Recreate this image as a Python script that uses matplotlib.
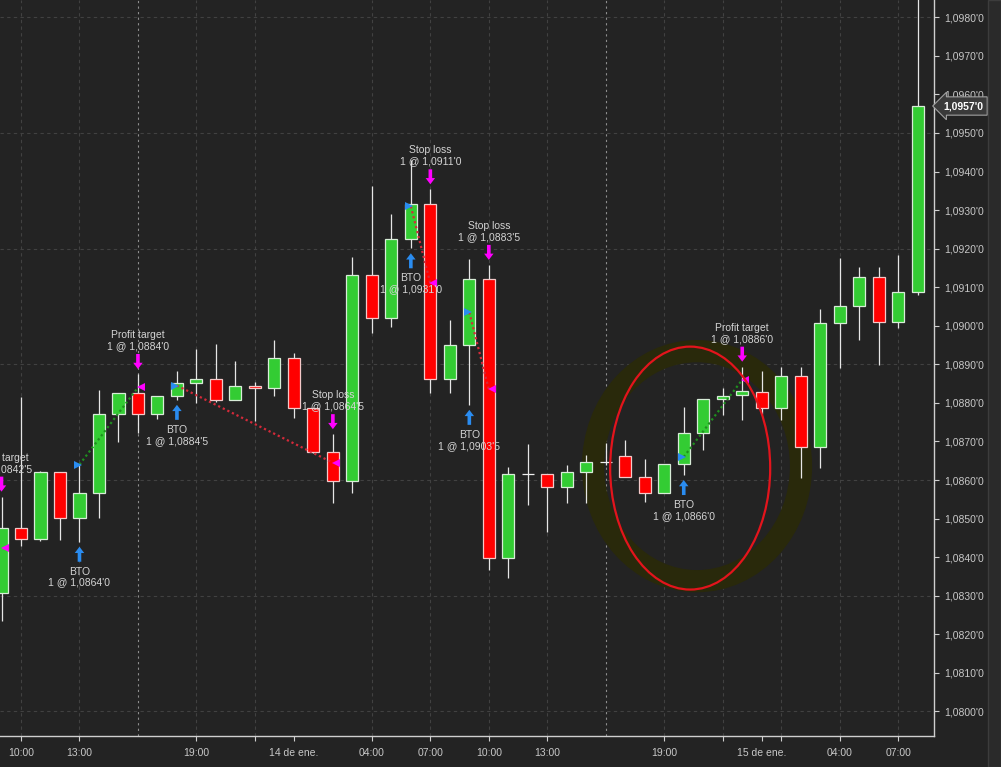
import matplotlib
matplotlib.use('Agg')
import matplotlib.pyplot as plt
import matplotlib.transforms as mtransforms
from matplotlib.patches import Ellipse, Rectangle
from matplotlib.ticker import FuncFormatter, MultipleLocator

# hourly bars, 13 ene 09:00 -> 15 ene 08:00
opens = [1.08307, 1.08475, 1.08446, 1.08620, 1.08501, 1.08566, 1.08770, 1.08825,
         1.08770, 1.08819, 1.08851, 1.08861, 1.08808, 1.08845, 1.08839, 1.08916,
         1.08786, 1.08672, 1.08598, 1.09132, 1.09019, 1.09225, 1.09316, 1.08861,
         1.08950, 1.09121, 1.08399, 1.08616, 1.08616, 1.08581, 1.08620, 1.08646,
         1.08662, 1.08609, 1.08566, 1.08641, 1.08721, 1.08810, 1.08821, 1.08829,
         1.08786, 1.08871, 1.08685, 1.09006, 1.09051, 1.09126, 1.09011, 1.09087]
highs = [1.08557, 1.08816, 1.08623, 1.08620, 1.08640, 1.08834, 1.08825, 1.08875,
         1.08819, 1.08884, 1.08939, 1.08953, 1.08909, 1.08855, 1.08963, 1.08930,
         1.08786, 1.08719, 1.09179, 1.09363, 1.09290, 1.09430, 1.09354, 1.09015,
         1.09172, 1.09158, 1.08633, 1.08693, 1.08616, 1.08639, 1.08665, 1.08697,
         1.08704, 1.08654, 1.08641, 1.08790, 1.08810, 1.08839, 1.08894, 1.08884,
         1.08894, 1.08894, 1.09043, 1.09175, 1.09153, 1.09153, 1.09184, 1.09860]
lows = [1.08235, 1.08429, 1.08443, 1.08444, 1.08440, 1.08501, 1.08699, 1.08721,
        1.08758, 1.08808, 1.08801, 1.08803, 1.08808, 1.08754, 1.08819, 1.08760,
        1.08669, 1.08540, 1.08566, 1.08981, 1.08996, 1.09201, 1.08825, 1.08825,
        1.08795, 1.08367, 1.08345, 1.08535, 1.08464, 1.08540, 1.08540, 1.08640,
        1.08609, 1.08544, 1.08566, 1.08613, 1.08678, 1.08769, 1.08756, 1.08771,
        1.08756, 1.08605, 1.08630, 1.08890, 1.08963, 1.08898, 1.08994, 1.09080]
closes = [1.08475, 1.08446, 1.08620, 1.08501, 1.08566, 1.08770, 1.08825, 1.08770,
          1.08819, 1.08851, 1.08861, 1.08808, 1.08845, 1.08839, 1.08916, 1.08786,
          1.08672, 1.08598, 1.09132, 1.09019, 1.09225, 1.09316, 1.08861, 1.08950,
          1.09121, 1.08399, 1.08616, 1.08616, 1.08581, 1.08620, 1.08646, 1.08646,
          1.08609, 1.08566, 1.08641, 1.08721, 1.08810, 1.08819, 1.08831, 1.08786,
          1.08871, 1.08685, 1.09006, 1.09051, 1.09126, 1.09011, 1.09087, 1.09570]

tick_hours = [1, 4, 10, 13, 15, 19, 22, 25, 28, 34, 37, 39, 40, 43, 46]
tick_labels = ['10:00', '13:00', '19:00', '', '14 de ene.', '04:00', '07:00', '10:00',
               '13:00', '19:00', '', '15 de ene.', '', '04:00', '07:00']
grid_hours = [1, 4, 10, 13, 19, 22, 25, 28, 34, 37, 40, 43, 46]
session_hours = [7, 31]

# trades (entry k is closed by exit k+1)
entry_bar = [4, 9, 21, 24, 35]
entry_price = [1.08640, 1.08845, 1.09310, 1.09035, 1.08660]
exit_bar = [0, 7, 17, 22, 25, 38]
exit_price = [1.08425, 1.08840, 1.08645, 1.09110, 1.08835, 1.08860]
exit_kind = ['Profit target', 'Profit target', 'Stop loss', 'Stop loss', 'Stop loss', 'Profit target']
last_price = 1.09570


def fmt(v):
    s = f"{v:.5f}"
    return s[:6].replace('.', ',') + "'" + s[6]


BG = '#232323'
TXT = '#d4d4d4'
plt.rcParams['font.family'] = ['Liberation Sans', 'DejaVu Sans']

fig = plt.figure(figsize=(10.01, 7.67), dpi=100, facecolor=BG)
ax = fig.add_axes([0, 0.0404, 0.9331, 0.9596], facecolor=BG)
fig.patches.append(Rectangle((988 / 1001, 0), 13 / 1001, 1, transform=fig.transFigure,
                             fc='#2a2a2a', ec='#3c3c3c', lw=1))

ax.set_xlim(-0.077, 47.84)
ax.set_ylim(1.079362, 1.098449)

# grid
for v in [1.0800 + 0.003 * k for k in range(7)]:
    ax.axhline(v, color='#414141', lw=0.8, ls=(0, (3, 3)), zorder=0)
for h in grid_hours:
    ax.axvline(h, color='#414141', lw=0.8, ls=(0, (3, 3)), zorder=0)
for h in session_hours:
    ax.axvline(h, color='#8e8e8e', lw=0.8, ls=(0, (2, 3)), zorder=0)

# hand-drawn highlight (under the bars)
ax.add_patch(Ellipse((35.68, 1.08636), 10.67, 0.005965, fill=False, ec='#29290b', lw=16, zorder=1))

# candles
n = len(opens)
xs = list(range(n))
for i in xs:
    o, h, l, c = opens[i], highs[i], lows[i], closes[i]
    ax.vlines(i, l, h, color='#e6e6e6', lw=0.9, zorder=3)
    if c > o:
        fc, ec = '#33cc33', '#d8ecd8'
    elif c < o:
        fc, ec = '#ff0000', '#f4c8c8'
    else:
        fc, ec = '#f0f0f0', '#f0f0f0'
    ax.bar(i, abs(c - o), bottom=min(o, c), width=0.62, color=fc, edgecolor=ec, lw=0.9, zorder=4)

# trade lines and markers
for k in range(len(entry_bar)):
    xe, pe = entry_bar[k], entry_price[k]
    xx, px = exit_bar[k + 1], exit_price[k + 1]
    col = '#1f8f1f' if px > pe else '#d42a3a'
    ax.plot([xe, xx], [pe, px], color=col, lw=1.6, ls=(0, (1, 1.3)), zorder=5)
    ax.plot(xe - 0.08, pe, marker='>', color='#2a8cf0', ms=5.5, mew=0, zorder=6)

for k in range(len(exit_bar)):
    ax.plot(exit_bar[k] + 0.16, exit_price[k], marker='<', color='#ff00ff', ms=5.5, mew=0, zorder=6)


def arrow(x, y, up, color):
    s = -1 if up else 1
    ax.annotate('', xy=(x, y), xytext=(0, s * 20), textcoords='offset pixels',
                arrowprops=dict(arrowstyle='simple,head_length=0.45,head_width=0.68,tail_width=0.26',
                                fc=color, ec='none', shrinkA=0, shrinkB=3.6, mutation_scale=10),
                zorder=7)


for k in range(len(entry_bar)):
    i = entry_bar[k]
    arrow(i, lows[i], True, '#2a8cf0')
    ax.annotate(f'BTO\n1 @ {fmt(entry_price[k])}', xy=(i, lows[i]), xytext=(0, -25),
                textcoords='offset pixels', ha='center', va='top', fontsize=7.5,
                color=TXT, linespacing=1.1, zorder=7)

for k in range(len(exit_bar)):
    i = exit_bar[k]
    arrow(i, highs[i], False, '#ff00ff')
    ax.annotate(f'{exit_kind[k]}\n1 @ {fmt(exit_price[k])}', xy=(i, highs[i]), xytext=(0, 23),
                textcoords='offset pixels', ha='center', va='bottom', fontsize=7.5,
                color=TXT, linespacing=1.1, zorder=7)

# red freehand loop on top
ax.add_patch(Ellipse((35.33, 1.08631), 8.21, 0.0063, fill=False, ec='#e3141c', lw=1.6, zorder=8))

# axes styling
for side in ['left', 'top']:
    ax.spines[side].set_visible(False)
for side in ['right', 'bottom']:
    ax.spines[side].set_color('#cfcfcf')
    ax.spines[side].set_linewidth(1)

ax.yaxis.tick_right()
ax.yaxis.set_major_locator(MultipleLocator(0.001))
ax.yaxis.set_major_formatter(FuncFormatter(lambda v, pos: fmt(v)))
ax.set_xticks(tick_hours)
ax.set_xticklabels(tick_labels)
ax.tick_params(axis='y', colors='#cfcfcf', labelcolor='#c8c8c8', labelsize=7.5, length=3.5, width=0.8, pad=3.5)
ax.tick_params(axis='x', colors='#cfcfcf', labelcolor='#c8c8c8', labelsize=7.5, length=3.5, width=0.8, pad=5)

# last price tag
trans = mtransforms.blended_transform_factory(ax.transAxes, ax.transData)
ax.annotate(fmt(last_price), xy=(1, last_price), xycoords=trans, xytext=(9, 0),
            textcoords='offset pixels', ha='left', va='center', color='white', fontsize=7.5,
            fontweight='bold', annotation_clip=False, zorder=10,
            bbox=dict(boxstyle='larrow,pad=0.4', fc='#3a3a3a', ec='#a0a0a0', lw=0.8))

fig.savefig('out.png', dpi=100, facecolor=BG)
